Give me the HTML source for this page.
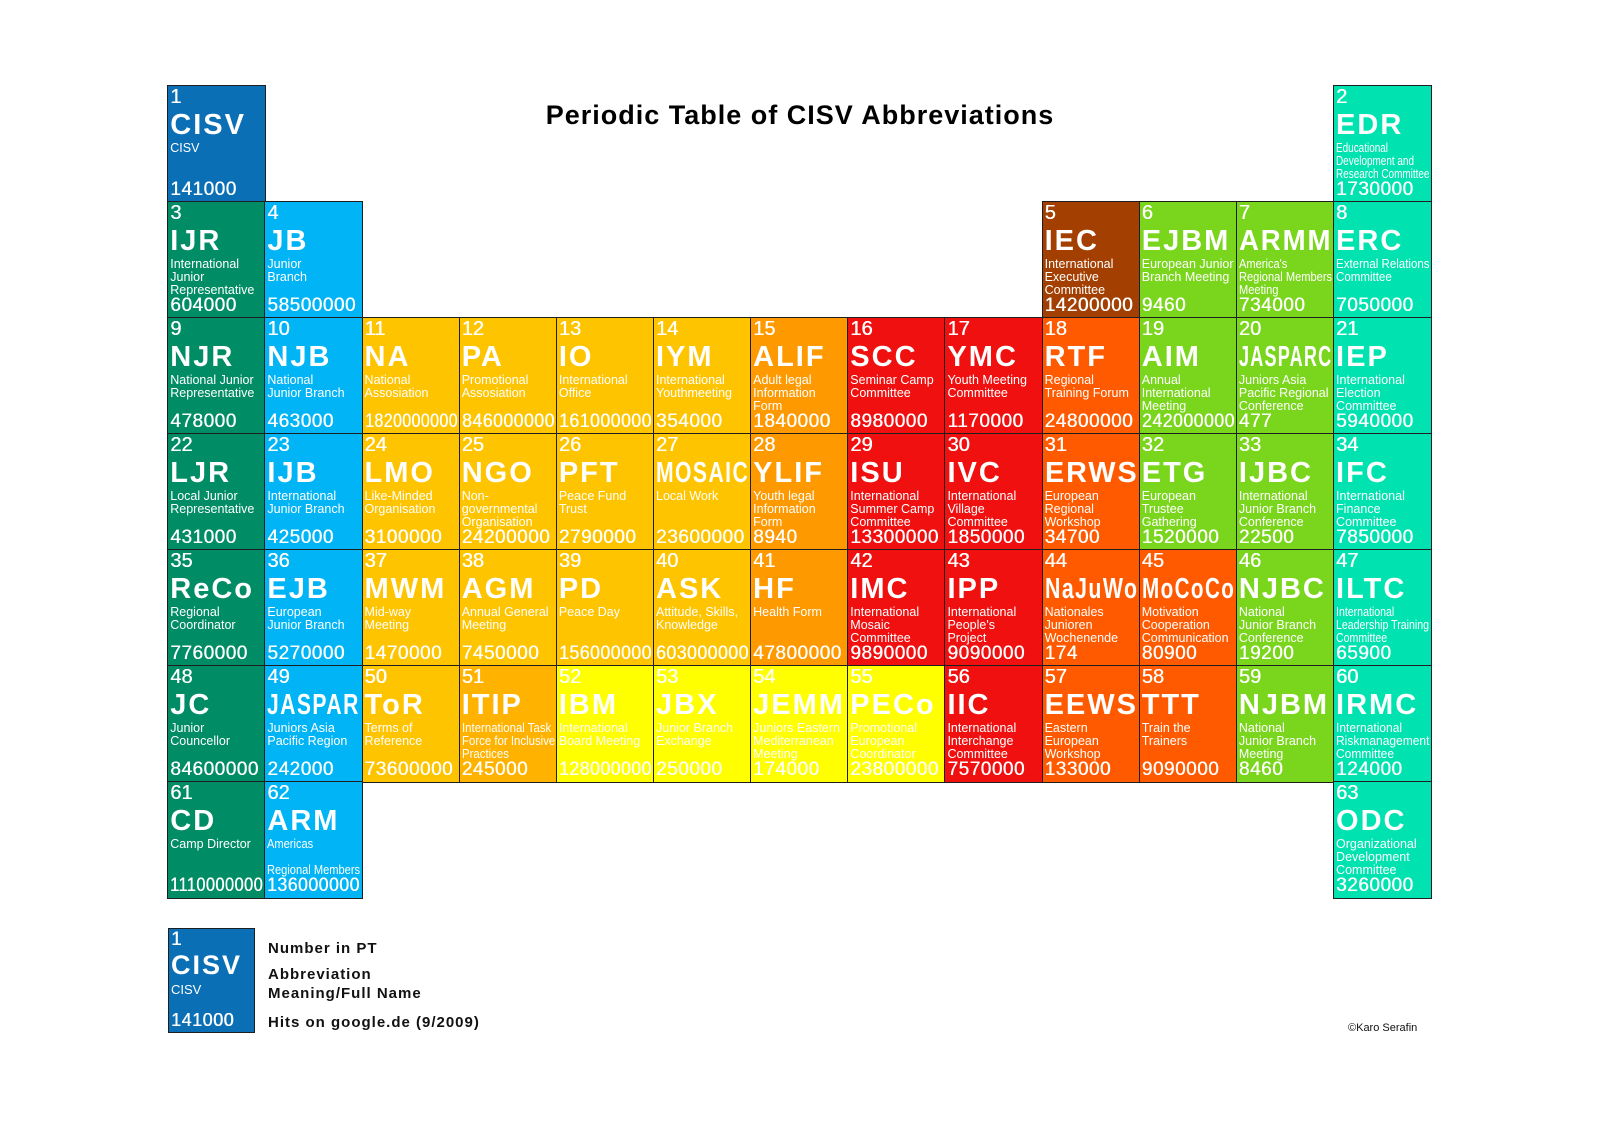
<!DOCTYPE html>
<html><head><meta charset="utf-8">
<style>
body{margin:0;background:#fff;width:1600px;height:1131px;position:relative;overflow:hidden;font-family:"Liberation Sans","DejaVu Sans",sans-serif}
.cell{position:absolute;box-sizing:border-box;border:1.5px solid #1e1e1e;color:#fff;overflow:hidden}
.cell .n{position:absolute;left:2px;top:0px;font-size:20px;line-height:22px;white-space:nowrap;text-shadow:0.4px 0 0 #fff}
.cell .a{position:absolute;left:2px;top:23px;font-size:29px;font-weight:bold;line-height:32px;letter-spacing:2px;white-space:nowrap;transform-origin:0 0}
.cell .m{position:absolute;left:2px;top:56px;font-size:12.5px;line-height:13px;white-space:nowrap;transform-origin:0 0}
.cell .h{position:absolute;left:2px;bottom:1px;font-size:19px;line-height:22px;white-space:nowrap;transform-origin:0 0;letter-spacing:0.5px;text-shadow:0.4px 0 0 #fff}
#title{position:absolute;left:0;width:1600px;top:100px;text-align:center;font-size:27px;font-weight:bold;letter-spacing:1px;color:#000}
.lg{position:absolute;left:268px;font-size:15px;font-weight:bold;letter-spacing:1px;color:#111;white-space:nowrap}
#copy{position:absolute;left:1348px;top:1022px;font-size:11px;color:#111}
</style></head><body>
<div id="title">Periodic Table of CISV Abbreviations</div>
<div id="table"></div>
<div class="cell" style="left:168px;top:928px;width:87px;height:105px;background:#0a6fb5">
<div class="n" style="font-size:19px">1</div><div class="a" style="top:20px;font-size:27px">CISV</div><div class="m" style="top:54px;font-size:13px">CISV</div><div class="h" style="font-size:18px">141000</div></div>
<div class="lg" style="top:940px">Number in PT</div>
<div class="lg" style="top:966px">Abbreviation</div>
<div class="lg" style="top:985px">Meaning/Full Name</div>
<div class="lg" style="top:1014px">Hits on google.de (9/2009)</div>
<div id="copy">©Karo Serafin</div>
<script>
const C={b:"#0a6fb5",g:"#008c64",l:"#00b4f5",y:"#ffc400",o:"#ff9900",r:"#f01010",x:"#ff5a00",w:"#a33f00",m:"#7ad61c",q:"#00e3b0",t:"#ffb300",e:"#ffff00"};
const cells=[
[1,0,0,"CISV","CISV","141000","b"],
[2,12,0,"EDR","Educational|Development and|Research Committee","1730000","q"],
[3,0,1,"IJR","International|Junior|Representative","604000","g"],
[4,1,1,"JB","Junior|Branch","58500000","l"],
[5,9,1,"IEC","International|Executive|Committee","14200000","w"],
[6,10,1,"EJBM","European Junior|Branch Meeting","9460","m"],
[7,11,1,"ARMM","America's|Regional Members|Meeting","734000","m"],
[8,12,1,"ERC","External Relations|Committee","7050000","q"],
[9,0,2,"NJR","National Junior|Representative","478000","g"],
[10,1,2,"NJB","National|Junior Branch","463000","l"],
[11,2,2,"NA","National|Assosiation","1820000000","y"],
[12,3,2,"PA","Promotional|Assosiation","846000000","y"],
[13,4,2,"IO","International|Office","161000000","y"],
[14,5,2,"IYM","International|Youthmeeting","354000","y"],
[15,6,2,"ALIF","Adult legal|Information|Form","1840000","o"],
[16,7,2,"SCC","Seminar Camp|Committee","8980000","r"],
[17,8,2,"YMC","Youth Meeting|Committee","1170000","r"],
[18,9,2,"RTF","Regional|Training Forum","24800000","x"],
[19,10,2,"AIM","Annual|International|Meeting","242000000","m"],
[20,11,2,"JASPARC","Juniors Asia|Pacific Regional|Conference","477","m"],
[21,12,2,"IEP","International|Election|Committee","5940000","q"],
[22,0,3,"LJR","Local Junior|Representative","431000","g"],
[23,1,3,"IJB","International|Junior Branch","425000","l"],
[24,2,3,"LMO","Like-Minded|Organisation","3100000","y"],
[25,3,3,"NGO","Non-|governmental|Organisation","24200000","y"],
[26,4,3,"PFT","Peace Fund|Trust","2790000","y"],
[27,5,3,"MOSAIC","Local Work","23600000","y"],
[28,6,3,"YLIF","Youth legal|Information|Form","8940","o"],
[29,7,3,"ISU","International|Summer Camp|Committee","13300000","r"],
[30,8,3,"IVC","International|Village|Committee","1850000","r"],
[31,9,3,"ERWS","European|Regional|Workshop","34700","x"],
[32,10,3,"ETG","European|Trustee|Gathering","1520000","m"],
[33,11,3,"IJBC","International|Junior Branch|Conference","22500","m"],
[34,12,3,"IFC","International|Finance|Committee","7850000","q"],
[35,0,4,"ReCo","Regional|Coordinator","7760000","g"],
[36,1,4,"EJB","European|Junior Branch","5270000","l"],
[37,2,4,"MWM","Mid-way|Meeting","1470000","y"],
[38,3,4,"AGM","Annual General|Meeting","7450000","y"],
[39,4,4,"PD","Peace Day","156000000","y"],
[40,5,4,"ASK","Attitude, Skills,|Knowledge","603000000","y"],
[41,6,4,"HF","Health Form","47800000","o"],
[42,7,4,"IMC","International|Mosaic|Committee","9890000","r"],
[43,8,4,"IPP","International|People's|Project","9090000","r"],
[44,9,4,"NaJuWo","Nationales|Junioren|Wochenende","174","x"],
[45,10,4,"MoCoCo","Motivation|Cooperation|Communication","80900","x"],
[46,11,4,"NJBC","National|Junior Branch|Conference","19200","m"],
[47,12,4,"ILTC","International|Leadership Training|Committee","65900","q"],
[48,0,5,"JC","Junior|Councellor","84600000","g"],
[49,1,5,"JASPAR","Juniors Asia|Pacific Region","242000","l"],
[50,2,5,"ToR","Terms of|Reference","73600000","y"],
[51,3,5,"ITIP","International Task|Force for Inclusive|Practices","245000","t"],
[52,4,5,"IBM","International|Board Meeting","128000000","e"],
[53,5,5,"JBX","Junior Branch|Exchange","250000","e"],
[54,6,5,"JEMM","Juniors Eastern|Mediterranean|Meeting","174000","e"],
[55,7,5,"PECo","Promotional|European|Coordinator","23800000","e"],
[56,8,5,"IIC","International|Interchange|Committee","7570000","r"],
[57,9,5,"EEWS","Eastern|European|Workshop","133000","x"],
[58,10,5,"TTT","Train the|Trainers","9090000","x"],
[59,11,5,"NJBM","National|Junior Branch|Meeting","8460","m"],
[60,12,5,"IRMC","International|Riskmanagement|Committee","124000","q"],
[61,0,6,"CD","Camp Director","1110000000","g"],
[62,1,6,"ARM","Americas||Regional Members","136000000","l"],
[63,12,6,"ODC","Organizational|Development|Committee","3260000","q"]
];
const X0=168,CW=97.15,Y0=86,RH=116;
const tb=document.getElementById('table');
function fit(el,max){const w=el.scrollWidth;if(w>max){el.style.transform='scaleX('+(max/w)+')';}}
cells.forEach(d=>{
 const el=document.createElement('div');
 el.className='cell';
 
 
 const x=X0+d[1]*CW,y=Y0+d[2]*RH;
 el.style.left=(x-0.75)+'px';el.style.top=(y-0.75)+'px';
 el.style.width=(CW+1.5)+'px';el.style.height=(RH+1.5)+'px';
 el.style.background=C[d[6]];
 el.innerHTML='<div class="n">'+d[0]+'</div><div class="a">'+d[3]+'</div><div class="m">'+d[4].split('|').join('<br>')+'</div><div class="h">'+d[5]+'</div>';
 tb.appendChild(el);
 fit(el.querySelector('.a'),CW-4);fit(el.querySelector('.m'),CW-4);fit(el.querySelector('.h'),CW-4);
});
</script>
</body></html>
